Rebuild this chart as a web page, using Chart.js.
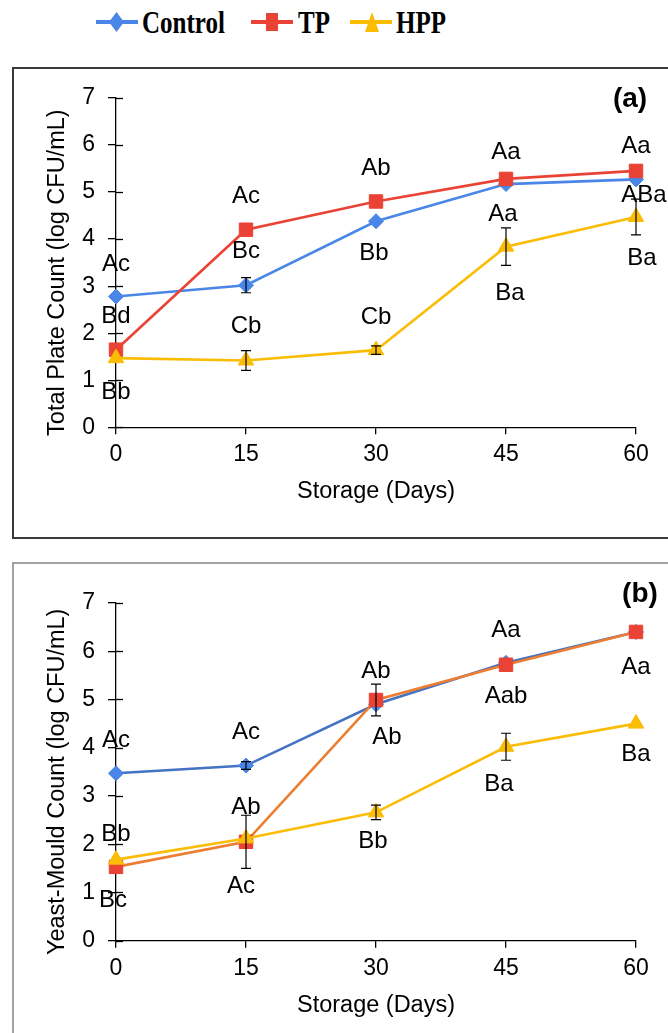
<!DOCTYPE html>
<html><head><meta charset="utf-8">
<script src="https://cdn.jsdelivr.net/npm/chart.js@4.4.1/dist/chart.umd.min.js"></script>
<style>
html,body{margin:0;padding:0;background:#fff;width:668px;height:1033px;overflow:hidden;position:relative;font-family:"Liberation Sans",Arial,sans-serif;}
.box{position:absolute;left:12px;width:700px;box-sizing:border-box;pointer-events:none;}
#boxA{top:67px;height:472px;border:2px solid #3a3a3a;}
#boxB{top:562px;height:520px;border:2px solid #a3a3a3;}
canvas{position:absolute;left:0;}
#cA{top:68px;}
#cB{top:563px;}
.plabel{position:absolute;font-weight:bold;font-size:28px;line-height:28px;transform:translate(-50%,-50%);color:#000;}
.lg-line{position:absolute;height:4px;top:20px;width:42px;}
.lg-mk{position:absolute;}
.lg-txt{position:absolute;top:22px;font-family:"Liberation Serif","Times New Roman",serif;font-weight:bold;font-size:25px;line-height:25px;transform-origin:left center;transform:translateY(-50%) scale(1,1.25);color:#000;white-space:nowrap;}
</style></head>
<body>
<div id="legend">
  <div class="lg-line" style="left:96px;background:#4a86e8"></div>
  <div class="lg-mk" style="left:109px;top:12px;width:15px;height:20px;background:#4a86e8;clip-path:polygon(50% 0,100% 50%,50% 100%,0 50%)"></div>
  <div class="lg-txt" style="left:142px">Control</div>
  <div class="lg-line" style="left:251px;background:#ea4335"></div>
  <div class="lg-mk" style="left:266px;top:13px;width:12px;height:18px;background:#ea4335"></div>
  <div class="lg-txt" style="left:298px">TP</div>
  <div class="lg-line" style="left:350px;background:#fbbc04"></div>
  <div class="lg-mk" style="left:365px;top:12px;width:14px;height:20px;background:#fbbc04;clip-path:polygon(50% 0,100% 100%,0 100%)"></div>
  <div class="lg-txt" style="left:396px">HPP</div>
</div>
<canvas id="cA" width="668" height="470"></canvas>
<canvas id="cB" width="668" height="470"></canvas>
<div class="box" id="boxA"></div>
<div class="box" id="boxB"></div>
<div class="plabel" style="left:630px;top:98px">(a)</div>
<div class="plabel" style="left:640px;top:593px">(b)</div>
<script>
// ---------- data ----------
const days = [0, 15, 30, 45, 60];
const yTicks = [0, 1, 2, 3, 4, 5, 6, 7];

// Panel (a): Total Plate Count
const tpcControl = [2.78, 3.02, 4.38, 5.17, 5.27];
const tpcTP      = [1.65, 4.20, 4.80, 5.28, 5.45];
const tpcHPP     = [1.47, 1.42, 1.64, 3.84, 4.47];
const tpcControlErr = [0, 0.16, 0, 0, 0];
const tpcTPErr      = [0, 0, 0, 0, 0];
const tpcHPPErr     = [0, 0.21, 0.09, 0.40, 0.38];
const tpcControlLbl = ['Ac', 'Bc', 'Bb', 'Aa', 'ABa'];
const tpcTPLbl      = ['Bd', 'Ac', 'Ab', 'Aa', 'Aa'];
const tpcHPPLbl     = ['Bb', 'Cb', 'Cb', 'Ba', 'Ba'];

// Panel (b): Yeast-Mould Count
const ymControl = [3.47, 3.63, 4.90, 5.76, 6.40];
const ymTP      = [1.53, 2.05, 4.99, 5.72, 6.40];
const ymHPP     = [1.68, 2.12, 2.66, 4.02, 4.50];
const ymControlErr = [0, 0.08, 0, 0, 0];
const ymTPErr      = [0, 0.55, 0.33, 0, 0];
const ymHPPErr     = [0, 0, 0.15, 0.28, 0];
const ymControlLbl = ['Ac', 'Ac', 'Ab', 'Aa', ''];
const ymTPLbl      = ['Bc', 'Ac', 'Ab', 'Aab', 'Aa'];
const ymHPPLbl     = ['Bb', 'Ab', 'Bb', 'Ba', 'Ba'];

// label placement (pixels relative to the point)
const posA = {
  control: {dx: [0, 0, -2, -3, 8], dy: [-32, -34, 32, 30, 16]},
  tp:      {dx: [0, 0, 0, 0, 0],   dy: [-33, -33, -33, -27, -25]},
  hpp:     {dx: [0, 0, 0, 4, 6],   dy: [34, -34, -33, 47, 41]}
};
const posB = {
  control: {dx: [0, 0, 11, 0, 0],  dy: [-33, -33, 33, -32, 0]},
  tp:      {dx: [-3, -5, 0, 0, 0], dy: [33, 45, -29, 32, 35]},
  hpp:     {dx: [0, 0, -3, -7, 0], dy: [-25, -31, 29, 38, 31]}
};

const C_BLUE = '#4a86e8', C_RED = '#ea4335', C_YEL = '#fbbc04';
const FONT = '"Liberation Sans", Arial, sans-serif';

const pts = (ys) => days.map((d, i) => ({x: d, y: ys[i]}));

const extrasPlugin = {
  id: 'extras',
  afterDatasetsDraw(chart) {
    const ctx = chart.ctx;
    const ys = chart.scales.y, xs = chart.scales.x;
    // inner half of y-axis tick marks
    ctx.save();
    ctx.strokeStyle = '#000'; ctx.lineWidth = 1.3;
    ys.ticks.forEach(t => {
      const py = Math.round(ys.getPixelForValue(t.value)) + 0.5;
      ctx.beginPath(); ctx.moveTo(xs.left, py); ctx.lineTo(xs.left + 7, py); ctx.stroke();
    });
    ctx.restore();
    // y-axis title (drawn a little below the plot centre, as in the original)
    ctx.save();
    ctx.fillStyle = '#000';
    ctx.font = '23.5px ' + FONT;
    ctx.textAlign = 'center'; ctx.textBaseline = 'middle';
    ctx.translate(58, (ys.top + ys.bottom) / 2 + 10);
    ctx.rotate(-Math.PI / 2);
    ctx.fillText(chart.options.yTitleText, 0, 0);
    ctx.restore();
    // error bars
    ctx.save();
    ctx.strokeStyle = '#000'; ctx.lineWidth = 1.2;
    chart.data.datasets.forEach((ds, di) => {
      const meta = chart.getDatasetMeta(di);
      ds.errors.forEach((e, j) => {
        if (!e) return;
        const el = meta.data[j];
        const v = ds.data[j].y;
        const yt = ys.getPixelForValue(v + e), yb = ys.getPixelForValue(v - e);
        const x = el.x;
        ctx.beginPath();
        ctx.moveTo(x, yt); ctx.lineTo(x, yb);
        ctx.moveTo(x - 5, yt); ctx.lineTo(x + 5, yt);
        ctx.moveTo(x - 5, yb); ctx.lineTo(x + 5, yb);
        ctx.stroke();
      });
    });
    ctx.restore();
    // letter labels
    ctx.save();
    ctx.fillStyle = '#000';
    ctx.font = '24px ' + FONT;
    ctx.textAlign = 'center'; ctx.textBaseline = 'middle';
    chart.data.datasets.forEach((ds, di) => {
      const meta = chart.getDatasetMeta(di);
      ds.letters.forEach((s, j) => {
        if (!s) return;
        const el = meta.data[j];
        ctx.fillText(s, el.x + ds.pos.dx[j], el.y + ds.pos.dy[j]);
      });
    });
    ctx.restore();
  }
};

function makeChart(id, series, lineColors, yTitle, padTop, padBottom, titlePadB) {
  const markers = [
    {style: 'rectRot', r: 7.5, c: C_BLUE},
    {style: 'rect', r: 9.5, c: C_RED},
    {style: 'triangle', r: 9, c: C_YEL}
  ];
  const orders = [2, 1, 0];
  const datasets = series.map((s, i) => ({
    label: s.name,
    data: pts(s.values),
    errors: s.err,
    letters: s.letters,
    pos: s.pos,
    borderColor: lineColors[i],
    backgroundColor: markers[i].c,
    pointBackgroundColor: markers[i].c,
    pointBorderColor: markers[i].c,
    pointBorderWidth: 1,
    pointStyle: markers[i].style,
    pointRadius: markers[i].r,
    borderWidth: 2.6,
    tension: 0,
    clip: false,
    order: orders[i]
  }));
  return new Chart(document.getElementById(id), {
    type: 'line',
    data: {datasets},
    plugins: [extrasPlugin],
    options: {
      yTitleText: yTitle,
      responsive: false,
      animation: false,
      events: [],
      layout: {padding: {left: 0, right: 32, top: padTop, bottom: padBottom}},
      plugins: {legend: {display: false}, tooltip: {enabled: false}},
      scales: {
        x: {
          type: 'linear', min: 0, max: 60,
          afterBuildTicks: (sc) => { sc.ticks = days.map(v => ({value: v})); },
          afterFit: (sc) => { sc.height = 85; },
          border: {display: true, color: '#000', width: 1.3},
          grid: {drawOnChartArea: false, drawTicks: true, tickLength: 7, color: '#000', lineWidth: 1.3},
          ticks: {color: '#000', font: {family: FONT, size: 23}, padding: 7, maxRotation: 0},
          title: {display: true, text: 'Storage (Days)', color: '#000', font: {family: FONT, size: 23.5}, padding: {top: 0, bottom: titlePadB}}
        },
        y: {
          type: 'linear', min: 0, max: 7,
          afterBuildTicks: (sc) => { sc.ticks = yTicks.map(v => ({value: v})); },
          afterFit: (sc) => { sc.width = 116; },
          border: {display: true, color: '#000', width: 1.3},
          grid: {drawOnChartArea: false, drawTicks: true, tickLength: 8, color: '#000', lineWidth: 1.3},
          ticks: {color: '#000', font: {family: FONT, size: 23}, padding: 13},
          title: {display: false}
        }
      }
    }
  });
}

makeChart('cA', [
  {name: 'Control', values: tpcControl, err: tpcControlErr, letters: tpcControlLbl, pos: posA.control},
  {name: 'TP', values: tpcTP, err: tpcTPErr, letters: tpcTPLbl, pos: posA.tp},
  {name: 'HPP', values: tpcHPP, err: tpcHPPErr, letters: tpcHPPLbl, pos: posA.hpp}
], [C_BLUE, C_RED, C_YEL], 'Total Plate Count (log CFU/mL)', 30, 25.7, 7);

makeChart('cB', [
  {name: 'Control', values: ymControl, err: ymControlErr, letters: ymControlLbl, pos: posB.control},
  {name: 'TP', values: ymTP, err: ymTPErr, letters: ymTPLbl, pos: posB.tp},
  {name: 'HPP', values: ymHPP, err: ymHPPErr, letters: ymHPPLbl, pos: posB.hpp}
], ['#4472c4', '#ed7d31', C_YEL], 'Yeast-Mould Count (log CFU/mL)', 40, 7.3, 6);
</script>
</body></html>
